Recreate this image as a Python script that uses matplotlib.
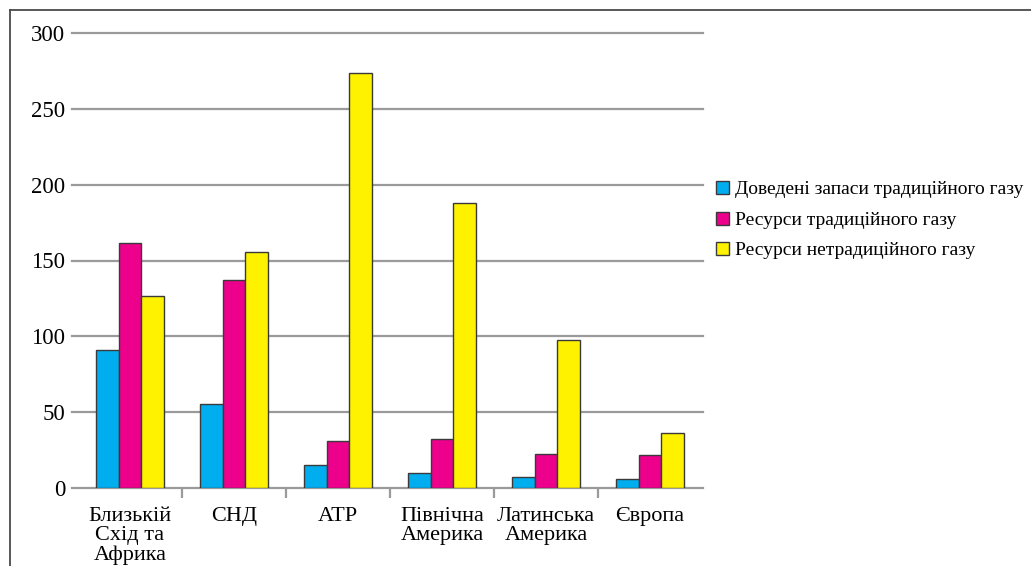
import matplotlib
matplotlib.use("Agg")
import matplotlib.pyplot as plt
from matplotlib.lines import Line2D
import numpy as np

# Regions and gas volumes (trillion m³)
regions = ["Близькій\nСхід та\nАфрика", "СНД", "АТР", "Північна\nАмерика",
           "Латинська\nАмерика", "Європа"]
proven_reserves = [90.7, 55.6, 15.2, 9.7, 7.5, 5.7]
conventional_resources = [161.5, 137.1, 31.0, 32.0, 22.4, 21.5]
unconventional_resources = [126.8, 155.3, 273.8, 188.0, 97.6, 36.5]
series_names = ["Доведені запаси традиційного газу",
                "Ресурси традиційного газу",
                "Ресурси нетрадиційного газу"]
y_ticks = [0, 50, 100, 150, 200, 250, 300]

colors = ["#00AEEF", "#EC008C", "#FFF200"]
edge = "#3a3a3a"
grid_color = "#9a9a9a"

plt.rcParams["font.family"] = ["Liberation Serif", "DejaVu Serif"]

W, H = 1031, 566
fig = plt.figure(figsize=(W / 100, H / 100), dpi=100)
ax_left, ax_right = 72, 703
ax_top, ax_bottom = 33, 488
ax = fig.add_axes([ax_left / W, 1 - ax_bottom / H,
                   (ax_right - ax_left) / W, (ax_bottom - ax_top) / H])

x = np.arange(len(regions))
w = 0.22
for i, (vals, c, name) in enumerate(zip(
        [proven_reserves, conventional_resources, unconventional_resources],
        colors, series_names)):
    ax.bar(x + (i - 1) * w, vals, width=w, color=c, edgecolor=edge,
           linewidth=1.0, label=name, zorder=3)

ax.set_ylim(0, 300)
ax.set_xlim(-0.558, 5.51)
ax.set_yticks(y_ticks)
ax.set_yticklabels([str(t) for t in y_ticks], fontsize=16.5)
ax.tick_params(axis="y", length=0, pad=5)

for t in y_ticks:
    ax.axhline(t, color=grid_color, linewidth=1.6, zorder=1, clip_on=False)

ax.set_xticks(x)
ax.set_xticklabels(regions, fontsize=16, linespacing=1.0)
ax.tick_params(axis="x", length=0, pad=14)
ax.set_xticks(x[:-1] + 0.5, minor=True)
ax.tick_params(axis="x", which="minor", length=7, width=1.6,
               color=grid_color, direction="out")

for s in ax.spines.values():
    s.set_visible(False)

leg = fig.legend(loc="upper left", bbox_to_anchor=(716 / W, 1 - 181 / H),
                 frameon=False, fontsize=14, handlelength=0.65,
                 handleheight=0.65, handletextpad=0.35, labelspacing=0.68,
                 borderpad=0, borderaxespad=0)

# Page frame (top and left rules)
frame_color = "#4a4a4a"
fig.add_artist(Line2D([10 / W, 10 / W], [0, 1 - 10 / H],
                      transform=fig.transFigure, color=frame_color, linewidth=1.3))
fig.add_artist(Line2D([10 / W, 1], [1 - 10 / H, 1 - 10 / H],
                      transform=fig.transFigure, color=frame_color, linewidth=1.3))

fig.savefig("out.png", dpi=100)
